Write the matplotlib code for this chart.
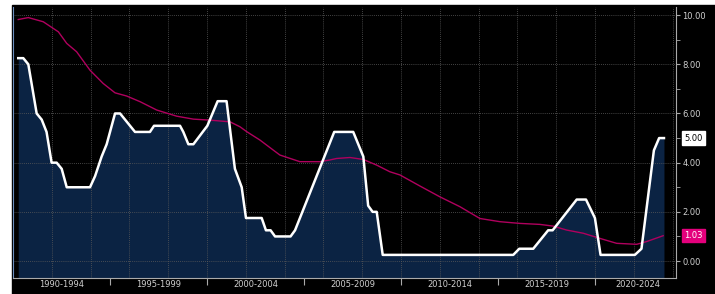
import numpy as np
import matplotlib
matplotlib.use('Agg')
import matplotlib.pyplot as plt
from matplotlib.patches import Rectangle

# policy rate (white line)
rate_years = [1990.27, 1990.53, 1990.79, 1991.22, 1991.48, 1991.73, 1991.99, 1992.25,
              1992.51, 1992.77, 1993.97, 1994.23, 1994.57, 1994.83, 1995.26, 1995.52,
              1996.29, 1997.06, 1997.27, 1998.61, 1998.78, 1999.04, 1999.30, 2000.02,
              2000.55, 2001.01, 2001.44, 2001.79, 2002.01, 2002.82, 2003.04, 2003.28,
              2003.51, 2004.31, 2004.54, 2006.56, 2007.54, 2008.06, 2008.31, 2008.54,
              2008.75, 2009.06, 2015.79, 2016.10, 2016.82, 2017.59, 2017.82, 2019.06,
              2019.54, 2020.00, 2020.29, 2022.06, 2022.40, 2023.04, 2023.31, 2023.56]
rate_values = [8.25, 8.25, 8.0, 6.0, 5.75, 5.25, 4.0, 4.0,
               3.75, 3.0, 3.0, 3.45, 4.25, 4.75, 6.0, 6.0,
               5.25, 5.25, 5.5, 5.5, 5.25, 4.75, 4.75, 5.5,
               6.5, 6.5, 3.75, 3.0, 1.75, 1.75, 1.25, 1.25,
               1.0, 1.0, 1.25, 5.25, 5.25, 4.25, 2.25, 2.0,
               2.0, 0.25, 0.25, 0.5, 0.5, 1.25, 1.25, 2.5,
               2.5, 1.75, 0.25, 0.25, 0.5, 4.5, 5.0, 5.0]

# magenta line
avg_years = [1990.27, 1990.79, 1991.56, 1992.34, 1992.77, 1993.28, 1993.97, 1994.65,
             1995.26, 1995.86, 1996.55, 1997.41, 1998.44, 1999.30, 2000.15, 2001.19,
             2001.70, 2002.05, 2002.73, 2003.42, 2003.76, 2004.79, 2005.82, 2006.34,
             2006.68, 2007.37, 2008.06, 2008.75, 2009.43, 2009.95, 2010.98, 2012.01,
             2013.04, 2014.07, 2015.10, 2016.13, 2017.16, 2017.85, 2018.54, 2019.40,
             2020.26, 2021.12, 2022.15, 2022.66, 2023.52]
avg_values = [9.82, 9.90, 9.73, 9.32, 8.85, 8.51, 7.76, 7.22,
              6.84, 6.71, 6.48, 6.14, 5.89, 5.77, 5.73, 5.66,
              5.46, 5.26, 4.92, 4.51, 4.31, 4.04, 4.04, 4.11,
              4.17, 4.21, 4.13, 3.90, 3.63, 3.50, 3.05, 2.61,
              2.21, 1.73, 1.60, 1.53, 1.49, 1.42, 1.26, 1.13,
              0.92, 0.72, 0.68, 0.79, 1.03]

period_labels = ['1990-1994', '1995-1999', '2000-2004', '2005-2009',
                 '2010-2014', '2015-2019', '2020-2024']
period_centres = [1992.5, 1997.5, 2002.5, 2007.5, 2012.5, 2017.5, 2022.2]
period_edges = [1995, 2000, 2005, 2010, 2015, 2020]

x_min, x_max = 1990.0, 2024.18
y_min, y_max = -0.69, 10.33

W, H = 715, 294
fig = plt.figure(figsize=(W / 100, H / 100), dpi=100, facecolor='white')
fig.patches.append(Rectangle((12 / W, 0), 1, (H - 5) / H, transform=fig.transFigure,
                             color='black', zorder=-1))
ax = fig.add_axes([13 / W, 16 / H, (676 - 13) / W, (278 - 7) / H])
ax.set_facecolor('black')

grid_kw = dict(color='#5a5a5a', lw=0.6, ls=(0, (1, 1.5)), zorder=1.5)
for yr in np.arange(1992, 2025, 2):
    ax.axvline(yr, **grid_kw)
for v in np.arange(0, 11, 2):
    ax.axhline(v, **grid_kw)

ax.fill_between(rate_years, rate_values, y_min, color='#0b2343', lw=0, zorder=1)
ax.plot(avg_years, avg_values, color='#b0005e', lw=1.0, zorder=3)
ax.plot(rate_years, rate_values, color='white', lw=1.8, zorder=4)

ax.set_xlim(x_min, x_max)
ax.set_ylim(y_min, y_max)

# x axis: separators as major ticks, period names as minor tick labels
ax.set_xticks(period_edges)
ax.set_xticklabels([])
ax.set_xticks(period_centres, minor=True)
ax.set_xticklabels(period_labels, minor=True)
ax.tick_params(axis='x', which='major', length=5, color='#aaaaaa', direction='out')
ax.tick_params(axis='x', which='minor', length=0, pad=1.5, labelsize=6, labelcolor='#d0d0d0')

ax.yaxis.tick_right()
ax.set_yticks(np.arange(0, 11, 2))
ax.set_yticklabels(['%.2f' % v for v in np.arange(0, 11, 2)])
ax.set_yticks(np.arange(1, 10, 2), minor=True)
ax.tick_params(axis='y', which='both', length=3, color='#aaaaaa', direction='out',
               labelsize=6, labelcolor='#d0d0d0', pad=1.5)

for side in ['top']:
    ax.spines[side].set_visible(False)
ax.spines['left'].set_color('#6b8fbf')
ax.spines['left'].set_linewidth(0.8)
ax.spines['bottom'].set_color('#aaaaaa')
ax.spines['right'].set_color('#aaaaaa')
ax.spines['bottom'].set_linewidth(0.8)
ax.spines['right'].set_linewidth(0.8)

# last value tags on the right
ax.annotate('%.2f' % rate_values[-1], xy=(1, rate_values[-1]),
            xycoords=('axes fraction', 'data'), xytext=(6, 0), textcoords='offset points',
            va='center', ha='left', fontsize=6, color='black',
            bbox=dict(boxstyle='square,pad=0.25', fc='white', ec='white'),
            annotation_clip=False)
ax.annotate('%.2f' % avg_values[-1], xy=(1, avg_values[-1]),
            xycoords=('axes fraction', 'data'), xytext=(6, 0), textcoords='offset points',
            va='center', ha='left', fontsize=6, color='white',
            bbox=dict(boxstyle='square,pad=0.25', fc='#e4007c', ec='#e4007c'),
            annotation_clip=False)

fig.savefig('out.png', dpi=100, facecolor=fig.get_facecolor())
